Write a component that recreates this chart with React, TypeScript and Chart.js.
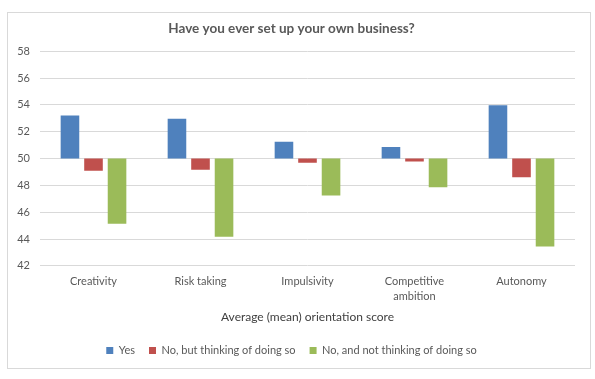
import React, { useEffect, useRef } from "react";
import { Chart, registerables } from "chart.js";

Chart.register(...registerables);

const categories: (string | string[])[] = [
  "Creativity",
  "Risk taking",
  "Impulsivity",
  ["Competitive", "ambition"],
  "Autonomy",
];
const seriesNames = ["Yes", "No, but thinking of doing so", "No, and not thinking of doing so"];
const yesValues = [53.2, 52.97, 51.26, 50.86, 53.98];
const thinkingValues = [49.1, 49.16, 49.68, 49.78, 48.6];
const notThinkingValues = [45.15, 44.17, 47.24, 47.87, 43.45];
const baseline = 50;
const yTicks = [42, 44, 46, 48, 50, 52, 54, 56, 58];
const colors = ["#4F81BD", "#C0504D", "#9BBB59"];

const FONT = "Lato, 'Open Sans', sans-serif";

export default function App() {
  const ref = useRef<HTMLCanvasElement | null>(null);
  useEffect(() => {
    if (!ref.current) return;
    const all = [yesValues, thinkingValues, notThinkingValues];
    const chart = new Chart(ref.current, {
      type: "bar",
      data: {
        labels: categories,
        datasets: all.map((vals, i) => ({
          label: seriesNames[i],
          data: vals.map((v) => [baseline, v] as [number, number]),
          backgroundColor: colors[i],
          borderColor: "#ffffff",
          borderWidth: 0,
          borderSkipped: false,
          barPercentage: 0.79,
          categoryPercentage: 0.66,
        })),
      },
      options: {
        animation: false,
        responsive: false,
        maintainAspectRatio: false,
        layout: { padding: { left: 0, right: 15, top: 0, bottom: 2 } },
        plugins: {
          title: {
            display: true,
            text: "Have you ever set up your own business?",
            color: "#595959",
            font: { family: FONT, size: 13.5, weight: "bold" },
            padding: { top: 8, bottom: 14 },
          },
          legend: {
            position: "bottom",
            labels: {
              color: "#595959",
              font: { family: FONT, size: 11 },
              boxWidth: 7,
              boxHeight: 7,
              padding: 14,
            },
          },
          tooltip: { enabled: false },
        },
        scales: {
          x: {
            grid: { display: false },
            border: { display: false },
            ticks: {
              color: "#595959",
              font: { family: FONT, size: 11, lineHeight: 1.35 },
              padding: 0,
              maxRotation: 0,
            },
            title: {
              display: true,
              text: "Average (mean) orientation score",
              color: "#404040",
              font: { family: FONT, size: 12 },
              padding: { top: 6, bottom: 7 },
            },
          },
          y: {
            min: 42,
            max: 58,
            afterBuildTicks: (s: any) => {
              s.ticks = yTicks.map((v) => ({ value: v }));
            },
            afterFit: (s: any) => {
              s.width = 32;
            },
            grid: { color: "#d9d9d9", drawTicks: false, lineWidth: 1 },
            border: { display: false },
            ticks: {
              color: "#595959",
              font: { family: FONT, size: 11 },
              padding: 10,
            },
          },
        },
      },
    });
    return () => chart.destroy();
  }, []);
  return (
    <div
      style={{
        position: "absolute",
        left: 7,
        top: 12,
        width: 582,
        height: 355,
        border: "1px solid #d9d9d9",
        background: "#fff",
      }}
    >
      <canvas ref={ref} width={582} height={355} style={{ display: "block" }} />
    </div>
  );
}
